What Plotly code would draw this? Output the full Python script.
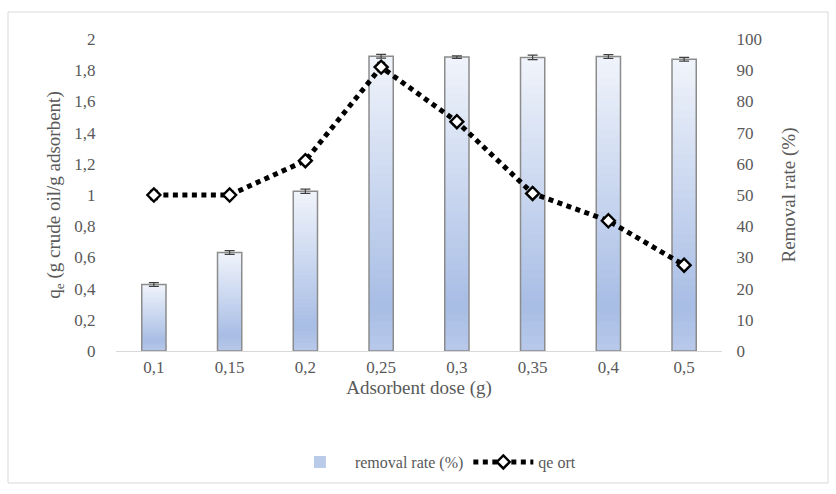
import plotly.graph_objects as go

# Adsorbent dose categories and measured series
doses = ["0,1", "0,15", "0,2", "0,25", "0,3", "0,35", "0,4", "0,5"]
removal_rate = [21.3, 31.6, 51.2, 94.5, 94.2, 94.1, 94.4, 93.5]
removal_err = [0.6, 0.6, 0.7, 0.6, 0.4, 0.7, 0.6, 0.6]
qe_ort = [1.00, 1.00, 1.22, 1.82, 1.47, 1.01, 0.835, 0.55]
qe_err = [0.03, 0.02, 0.02, 0.03, 0.02, 0.02, 0.02, 0.02]

# axis tick labels (comma decimal)
qe_ticks = [0, 0.2, 0.4, 0.6, 0.8, 1.0, 1.2, 1.4, 1.6, 1.8, 2.0]
qe_ticktext = ["0", "0,2", "0,4", "0,6", "0,8", "1", "1,2", "1,4", "1,6", "1,8", "2"]
rate_ticks = [0, 10, 20, 30, 40, 50, 60, 70, 80, 90, 100]

FONT = "Liberation Serif"
GREY = "#595959"

# vertical gradient stops for bar fill (fraction of bar height from base -> colour)
grad_stops = [(0.0, (184, 201, 234)), (0.15, (168, 189, 229)), (1.0, (240, 244, 251))]
N_SEG = 40
LEGEND_SEG = 14


def grad_color(t):
    for (t0, c0), (t1, c1) in zip(grad_stops[:-1], grad_stops[1:]):
        if t0 <= t <= t1:
            f = (t - t0) / (t1 - t0) if t1 > t0 else 0
            rgb = [round(a + (b - a) * f) for a, b in zip(c0, c1)]
            return "rgb({},{},{})".format(*rgb)
    return "rgb({},{},{})".format(*grad_stops[-1][1])


fig = go.Figure()

# gradient body of each bar, built from overlapping slices of the bar's own value
for k in range(N_SEG):
    bases = [v * k / N_SEG for v in removal_rate]
    heights = [min(2 * v / N_SEG, v - b) for v, b in zip(removal_rate, bases)]
    fig.add_trace(go.Bar(
        x=doses, y=heights, base=bases,
        marker=dict(color=grad_color((k + 0.5) / N_SEG), line=dict(width=0)),
        yaxis="y", hoverinfo="skip",
        name="removal rate (%)", showlegend=(k == LEGEND_SEG),
    ))

# bar outline with error bars
fig.add_trace(go.Bar(
    x=doses, y=removal_rate, yaxis="y",
    marker=dict(color="rgba(0,0,0,0)", line=dict(color="#8c8c8c", width=1.5)),
    error_y=dict(type="data", array=removal_err, color="#404040", thickness=1.2, width=5),
    showlegend=False,
))

# qe line (dotted) on the left axis
fig.add_trace(go.Scatter(
    x=doses, y=qe_ort, yaxis="y2", name="qe ort", mode="lines+markers",
    line=dict(color="black", width=5, dash="5px,4.5px"),
    marker=dict(symbol="diamond", size=10, color="white", line=dict(color="black", width=2.4)),
    error_y=dict(type="data", array=qe_err, color="#202020", thickness=1.2, width=4),
))

fig.update_layout(
    width=836, height=494,
    margin=dict(l=116, r=114, t=39, b=143),
    paper_bgcolor="white", plot_bgcolor="white",
    barmode="overlay", bargap=0.68,
    font=dict(family=FONT, size=17, color=GREY),
    xaxis=dict(
        type="category", showgrid=False, showline=True, linecolor="#d9d9d9", linewidth=1.3,
        ticks="", tickfont=dict(family=FONT, size=17, color=GREY),
        title=dict(text="Adsorbent dose (g)", font=dict(family=FONT, size=19, color=GREY), standoff=4),
    ),
    yaxis=dict(
        side="right", range=[0, 100], tickvals=rate_ticks, showgrid=False, zeroline=False, showline=False,
        ticks="outside", ticklen=10, tickcolor="rgba(0,0,0,0)",
        tickfont=dict(family=FONT, size=17, color=GREY),
        title=dict(text="Removal rate (%)", font=dict(family=FONT, size=19, color=GREY), standoff=20),
    ),
    yaxis2=dict(
        side="left", overlaying="y", range=[0, 2], tickvals=qe_ticks, ticktext=qe_ticktext,
        showgrid=False, zeroline=False, showline=False,
        ticks="outside", ticklen=16, tickcolor="rgba(0,0,0,0)",
        tickfont=dict(family=FONT, size=17, color=GREY),
        title=dict(text="q<sub>e</sub> (g crude oil/g adsorbent)", font=dict(family=FONT, size=19, color=GREY), standoff=8),
    ),
    legend=dict(
        orientation="h", x=0.523, y=-0.356, xanchor="center", yanchor="middle",
        font=dict(family=FONT, size=16, color=GREY), itemwidth=60,
        bgcolor="rgba(0,0,0,0)",
    ),
    shapes=[dict(
        type="rect", xref="paper", yref="paper",
        x0=(8 - 116) / 606, x1=(828 - 116) / 606,
        y0=(351 - 483) / 312, y1=(351 - 12) / 312,
        line=dict(color="#d9d9d9", width=1), fillcolor="rgba(0,0,0,0)", layer="below",
    )],
)

fig.write_html("out.html")
